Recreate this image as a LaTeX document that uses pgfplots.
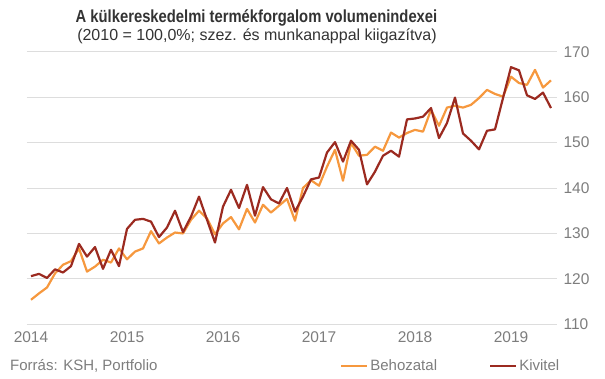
\documentclass[border=0pt]{standalone}
\usepackage{pgfplots}
\pgfplotsset{compat=1.18}
\usepackage{graphicx}
\usepackage{fontspec}
\setmainfont{Liberation Sans}
\definecolor{beh}{RGB}{246,152,62}
\definecolor{kiv}{RGB}{155,42,32}
\definecolor{gridc}{RGB}{221,221,221}
\definecolor{tickc}{RGB}{125,125,125}
\definecolor{titc}{RGB}{51,51,51}
\begin{document}
\begin{tikzpicture}
\path[use as bounding box] (0pt,0pt) rectangle (605pt,378pt);
\begin{axis}[
  at={(27pt,53.7pt)}, anchor=south west,
  scale only axis, width=530pt, height=272.6pt,
  xmin=-0.5, xmax=65.75, ymin=110, ymax=170,
  xtick={0,12,24,36,48,60},
  xticklabels={2014,2015,2016,2017,2018,2019},
  ytick={110,120,...,170},
  yticklabel pos=right,
  ymajorgrids, grid style={gridc, line width=1pt},
  axis line style={draw=none}, major tick style={draw=none},
  /pgf/number format/assume math mode=true,
  ticklabel style={font=\fontsize{15.5pt}{18pt}\selectfont, text=tickc},
  yticklabel style={anchor=west, xshift=3pt},
  xticklabel style={yshift=-4pt},
  legend columns=2,
  legend style={at={(1.0085,-0.153)}, anchor=east, draw=none, fill=none, inner sep=0pt,
    font=\fontsize{15pt}{18pt}\selectfont, text=tickc,
    /tikz/every even column/.append style={column sep=50pt}},
  legend cell align=left,
  legend image code/.code={\draw[#1] (0pt,0pt) -- (26pt,0pt);},
]
\addplot[beh, line width=2.2pt, line join=round] coordinates {
(0,115.4) (1,116.8) (2,118.1) (3,121.2) (4,123.1) (5,123.9) (6,126.7) (7,121.6) (8,122.7) (9,124.2) (10,123.6) (11,126.7)
(12,124.3) (13,126.0) (14,126.7) (15,130.5) (16,127.8) (17,129.1) (18,130.2) (19,130.0) (20,133.0) (21,135.0) (22,133.3) (23,129.8)
(24,132.2) (25,133.6) (26,130.9) (27,135.4) (28,132.4) (29,136.3) (30,134.6) (31,136.1) (32,137.6) (33,132.8) (34,140.0) (35,141.7)
(36,140.5) (37,144.7) (38,148.4) (39,141.6) (40,149.9) (41,147.1) (42,147.3) (43,149.1) (44,148.2) (45,152.2) (46,151.1) (47,152.1)
(48,152.8) (49,152.4) (50,157.2) (51,153.7) (52,157.7) (53,158.1) (54,157.7) (55,158.3) (56,159.8) (57,161.6) (58,160.7) (59,160.1)
(60,164.5) (61,163.1) (62,162.7) (63,166.0) (64,162.1) (65,163.7)
};
\addlegendentry{Behozatal}
\addplot[kiv, line width=2.2pt, line join=round] coordinates {
(0,120.6) (1,121.1) (2,120.2) (3,122.1) (4,121.4) (5,122.8) (6,127.7) (7,124.9) (8,127.0) (9,122.2) (10,126.4) (11,122.8)
(12,131.0) (13,133.0) (14,133.2) (15,132.6) (16,129.2) (17,131.3) (18,135.0) (19,130.3) (20,133.7) (21,138.1) (22,133.0) (23,128.0)
(24,135.9) (25,139.6) (26,135.6) (27,140.7) (28,133.9) (29,140.2) (30,137.5) (31,136.6) (32,140.0) (33,134.8) (34,138.1) (35,141.9)
(36,142.3) (37,147.8) (38,150.1) (39,145.8) (40,150.4) (41,148.4) (42,140.8) (43,143.6) (44,147.1) (45,148.2) (46,146.9) (47,155.1)
(48,155.3) (49,155.7) (50,157.6) (51,151.0) (52,154.3) (53,159.9) (54,152.0) (55,150.4) (56,148.5) (57,152.6) (58,152.9) (59,159.8)
(60,166.6) (61,165.9) (62,160.4) (63,159.6) (64,161.0) (65,157.6)
};
\addlegendentry{Kivitel}
\end{axis}
\node[anchor=center, text=titc, font=\fontsize{17.5pt}{20pt}\selectfont\bfseries] at (256.5pt,360.5pt) {\scalebox{0.845}[1]{A külkereskedelmi termékforgalom volumenindexei}};
\node[anchor=center, text=titc, font=\fontsize{16pt}{19pt}\selectfont] at (257pt,342pt) {(2010 = 100,0\%; szez. és munkanappal kiigazítva)};
\node[anchor=west, inner sep=0pt, text=tickc, font=\fontsize{15pt}{18pt}\selectfont] at (10pt,12pt) {Forrás: KSH, Portfolio};
\end{tikzpicture}
\end{document}
